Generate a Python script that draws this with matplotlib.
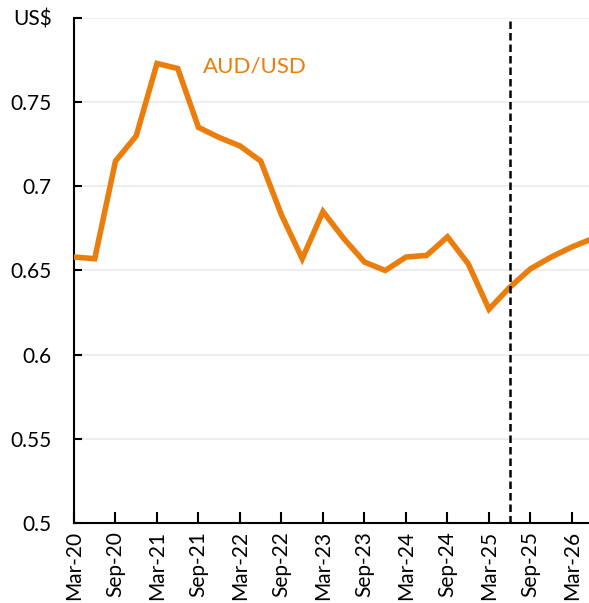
import matplotlib.pyplot as plt

# Quarterly AUD/USD (actuals then forecast)
quarters = ['Mar-20', 'Jun-20', 'Sep-20', 'Dec-20', 'Mar-21', 'Jun-21', 'Sep-21', 'Dec-21',
            'Mar-22', 'Jun-22', 'Sep-22', 'Dec-22', 'Mar-23', 'Jun-23', 'Sep-23', 'Dec-23',
            'Mar-24', 'Jun-24', 'Sep-24', 'Dec-24', 'Mar-25', 'Jun-25', 'Sep-25', 'Dec-25',
            'Mar-26', 'Jun-26']
aud_usd = [0.658, 0.657, 0.715, 0.730, 0.773, 0.770, 0.735, 0.729,
           0.724, 0.715, 0.683, 0.657, 0.685, 0.669, 0.655, 0.650,
           0.658, 0.659, 0.670, 0.654, 0.627, 0.640, 0.651, 0.658,
           0.664, 0.669]
forecast_start = 'Jun-25'
y_ticks = [0.5, 0.55, 0.6, 0.65, 0.7, 0.75, 0.8]
y_labels = ['0.5', '0.55', '0.6', '0.65', '0.7', '0.75', 'US$']

plt.rcParams['font.family'] = ['Lato', 'DejaVu Sans']
orange = '#EB7D0C'

fig = plt.figure(figsize=(5.89, 6.03), dpi=100)
ax = fig.add_axes([74 / 589, 80 / 603, 1 - 74 / 589, 505 / 603])

x = list(range(len(quarters)))
ax.plot(x, aud_usd, color=orange, linewidth=4, solid_joinstyle='miter', zorder=3)
ax.axvline(quarters.index(forecast_start), color='black', linestyle=(0, (3, 1.6)),
           linewidth=1.8, zorder=4)
ax.text(6.2, 0.771, 'AUD/USD', color=orange, fontsize=16, va='center', ha='left')

ax.set_xlim(0, 24.82)
ax.set_ylim(0.5, 0.8)
ax.set_xticks(x[::2])
ax.set_xticklabels(quarters[::2], rotation=90)
ax.set_yticks(y_ticks)
ax.set_yticklabels(y_labels)
ax.grid(axis='y', color='#EBEBEB', linewidth=1.2)
ax.set_axisbelow(True)

for side in ['top', 'right']:
    ax.spines[side].set_visible(False)
for side in ['left', 'bottom']:
    ax.spines[side].set_linewidth(1.5)
ax.tick_params(axis='both', direction='in', length=8, width=1.5, labelsize=15)
ax.tick_params(axis='y', length=6, pad=16)
ax.tick_params(axis='x', pad=6)

plt.savefig('out.png', dpi=100)
